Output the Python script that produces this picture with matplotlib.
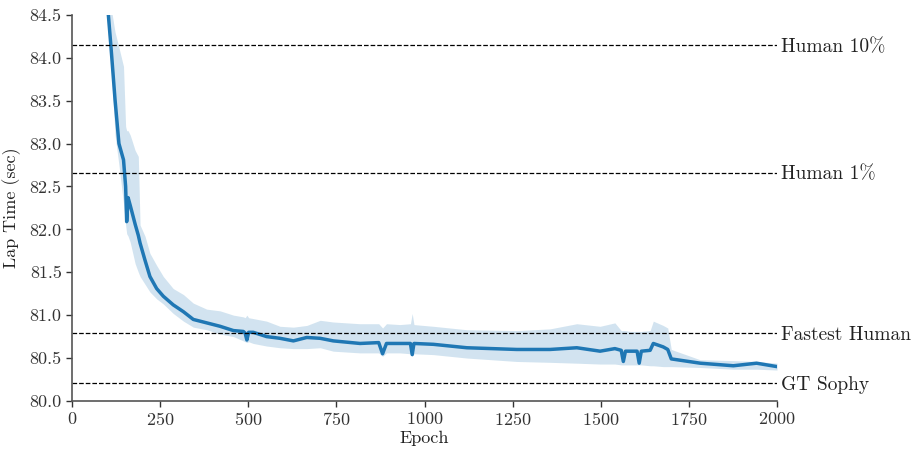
import matplotlib
matplotlib.use("Agg")
import matplotlib.pyplot as plt
import matplotlib.transforms as mtransforms
import numpy as np

plt.rcParams['font.family'] = 'serif'
plt.rcParams['font.serif'] = ['cmr10']
plt.rcParams['axes.formatter.use_mathtext'] = True
plt.rcParams['mathtext.fontset'] = 'cm'

# values
epochs = [98, 110, 122, 133, 146, 152, 155, 159, 165, 179, 188, 193, 207, 221, 240,
          259, 287, 316, 344, 382, 420, 458, 486, 491, 496, 501, 514, 552, 590, 628,
          666, 704, 741, 817, 870, 881, 892, 930, 960, 965, 970, 1025, 1120, 1262,
          1356, 1432, 1498, 1540, 1558, 1564, 1570, 1583, 1603, 1609, 1615, 1640,
          1649, 1677, 1690, 1700, 1782, 1876, 1942, 2000]
lap_mean = [84.75, 84.15, 83.51, 83.00, 82.81, 82.50, 82.09, 82.37, 82.28, 82.06,
            81.93, 81.84, 81.64, 81.45, 81.31, 81.22, 81.12, 81.04, 80.95, 80.91,
            80.87, 80.82, 80.81, 80.79, 80.71, 80.80, 80.80, 80.75, 80.73, 80.70,
            80.74, 80.73, 80.70, 80.67, 80.68, 80.55, 80.67, 80.67, 80.67, 80.54,
            80.67, 80.66, 80.62, 80.60, 80.60, 80.62, 80.58, 80.61, 80.59, 80.46,
            80.58, 80.58, 80.58, 80.44, 80.58, 80.59, 80.67, 80.63, 80.60, 80.49,
            80.44, 80.41, 80.44, 80.40]
lap_high = [85.00, 84.60, 84.30, 84.12, 83.90, 83.20, 83.15, 83.15, 83.10, 82.92,
            82.85, 82.05, 81.92, 81.72, 81.58, 81.45, 81.31, 81.24, 81.14, 81.07,
            81.05, 81.00, 80.98, 80.97, 81.00, 80.97, 80.96, 80.93, 80.87, 80.86,
            80.88, 80.94, 80.92, 80.90, 80.90, 80.85, 80.90, 80.89, 80.90, 81.02,
            80.89, 80.87, 80.83, 80.82, 80.84, 80.90, 80.87, 80.91, 80.82, 80.82,
            80.82, 80.81, 80.81, 80.81, 80.81, 80.82, 80.93, 80.88, 80.85, 80.60,
            80.48, 80.47, 80.46, 80.44]
lap_low = [84.50, 83.95, 83.10, 82.75, 82.30, 82.05, 81.95, 81.92, 81.85, 81.60,
           81.50, 81.45, 81.36, 81.27, 81.19, 81.13, 81.02, 80.93, 80.86, 80.83,
           80.78, 80.75, 80.70, 80.69, 80.68, 80.69, 80.67, 80.64, 80.62, 80.61,
           80.61, 80.62, 80.58, 80.56, 80.56, 80.52, 80.56, 80.56, 80.55, 80.52,
           80.55, 80.54, 80.50, 80.46, 80.45, 80.44, 80.43, 80.43, 80.42, 80.42,
           80.42, 80.42, 80.42, 80.42, 80.42, 80.41, 80.41, 80.40, 80.40, 80.40,
           80.39, 80.37, 80.37, 80.36]

ref_names = ['Human 10%', 'Human 1%', 'Fastest Human', 'GT Sophy']
ref_times = [84.15, 82.66, 80.79, 80.21]

fig = plt.figure(figsize=(9.12, 4.51), dpi=100)
ax = fig.add_axes([0.079, 0.111, 0.773, 0.856])

ax.fill_between(epochs, lap_low, lap_high, color='#1f77b4', alpha=0.2, linewidth=0)
ax.plot(epochs, lap_mean, color='#1f77b4', linewidth=2.5)

# labels sit a touch below their lines
label_trans = ax.get_yaxis_transform() + mtransforms.ScaledTranslation(0, -2 / 100, fig.dpi_scale_trans)
for name, t in zip(ref_names, ref_times):
    ax.axhline(t, color='black', linestyle='--', linewidth=0.9)
    ax.text(1.005, t, name, transform=label_trans,
            ha='left', va='center', fontsize=14, color='#222222')

ax.set_xlim(0, 2000)
ax.set_ylim(80.0, 84.5)
ax.set_xticks([0, 250, 500, 750, 1000, 1250, 1500, 1750, 2000])
ax.set_yticks(np.arange(80.0, 84.51, 0.5))
ax.yaxis.set_major_formatter(matplotlib.ticker.FormatStrFormatter('%.1f'))
ax.set_xlabel('Epoch', fontsize=13, color='#222222', labelpad=2)
ax.set_ylabel('Lap Time (sec)', fontsize=13, color='#222222', labelpad=6)
ax.tick_params(labelsize=13, colors='#333333', length=4, width=1)
for side in ['top', 'right']:
    ax.spines[side].set_visible(False)
for side in ['left', 'bottom']:
    ax.spines[side].set_color('#555555')
    ax.spines[side].set_linewidth(1.2)

fig.savefig('out.png', dpi=100)
